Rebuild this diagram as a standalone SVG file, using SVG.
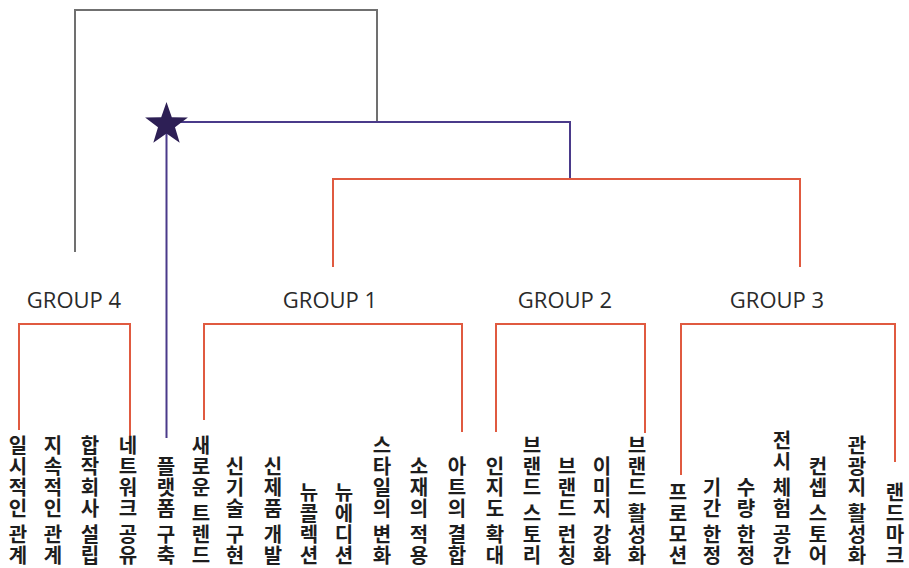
<svg xmlns="http://www.w3.org/2000/svg" width="909" height="568" viewBox="0 0 909 568">
<style>
.gray{fill:none;stroke:#707070;stroke-width:2}
.pur{fill:none;stroke:#4a3a8a;stroke-width:2}
.red{fill:none;stroke:#e05a40;stroke-width:2}
.grp{font-family:"Open Sans","Noto Sans",sans-serif;font-size:22px;fill:#2a2a2a;text-anchor:middle}
.leaf{font-family:"Noto Sans CJK KR","Noto Sans CJK SC",sans-serif;font-size:20px;font-weight:bold;fill:#1e1e1e;text-anchor:middle;dominant-baseline:central}
</style>
<rect width="909" height="568" fill="#fff"/>
<g id="connectors">
<polyline class="gray" points="75,252 75,10 377,10 377,122"/>
<polyline class="pur" points="180,122 570,122 570,179"/>
<line class="pur" x1="166.5" y1="130" x2="166.5" y2="438"/>
<polyline class="red" points="333,267 333,179 800,179 800,267"/>
<polyline class="red" points="19,430 19,324 130,324 130,446"/>
<polyline class="red" points="204,420 204,324 462,324 462,432"/>
<polyline class="red" points="496,432 496,324 645,324 645,433"/>
<polyline class="red" points="681,475 681,324 895,324 895,462"/>
</g>
<g id="root">
<polygon fill="#2d1f55" points="166.5,102 171.8,117.2 187.9,117.5 175.0,127.3 179.7,142.7 166.5,133.5 153.3,142.7 158.0,127.3 145.1,117.5 161.2,117.2"/>
</g>
<g id="group4"><text class="grp" x="74" y="308">GROUP 4</text></g>
<g id="group1"><text class="grp" x="330" y="308">GROUP 1</text></g>
<g id="group2"><text class="grp" x="565" y="308">GROUP 2</text></g>
<g id="group3"><text class="grp" x="777" y="308">GROUP 3</text></g>
<g id="leaf1"><text class="leaf"><tspan x="18" y="444">일</tspan><tspan x="18" y="465">시</tspan><tspan x="18" y="486">적</tspan><tspan x="18" y="507">인</tspan><tspan x="18" y="533">관</tspan><tspan x="18" y="554">계</tspan></text></g>
<g id="leaf2"><text class="leaf"><tspan x="53" y="444">지</tspan><tspan x="53" y="465">속</tspan><tspan x="53" y="486">적</tspan><tspan x="53" y="507">인</tspan><tspan x="53" y="533">관</tspan><tspan x="53" y="554">계</tspan></text></g>
<g id="leaf3"><text class="leaf"><tspan x="90" y="444">합</tspan><tspan x="90" y="465">작</tspan><tspan x="90" y="486">회</tspan><tspan x="90" y="507">사</tspan><tspan x="90" y="533">설</tspan><tspan x="90" y="554">립</tspan></text></g>
<g id="leaf4"><text class="leaf"><tspan x="128" y="444">네</tspan><tspan x="128" y="465">트</tspan><tspan x="128" y="486">워</tspan><tspan x="128" y="507">크</tspan><tspan x="128" y="533">공</tspan><tspan x="128" y="554">유</tspan></text></g>
<g id="leaf5"><text class="leaf"><tspan x="166" y="465">플</tspan><tspan x="166" y="486">랫</tspan><tspan x="166" y="507">폼</tspan><tspan x="166" y="533">구</tspan><tspan x="166" y="554">축</tspan></text></g>
<g id="leaf6"><text class="leaf"><tspan x="201" y="444">새</tspan><tspan x="201" y="465">로</tspan><tspan x="201" y="486">운</tspan><tspan x="201" y="512">트</tspan><tspan x="201" y="533">렌</tspan><tspan x="201" y="554">드</tspan></text></g>
<g id="leaf7"><text class="leaf"><tspan x="235" y="465">신</tspan><tspan x="235" y="486">기</tspan><tspan x="235" y="507">술</tspan><tspan x="235" y="533">구</tspan><tspan x="235" y="554">현</tspan></text></g>
<g id="leaf8"><text class="leaf"><tspan x="273" y="465">신</tspan><tspan x="273" y="486">제</tspan><tspan x="273" y="507">품</tspan><tspan x="273" y="533">개</tspan><tspan x="273" y="554">발</tspan></text></g>
<g id="leaf9"><text class="leaf"><tspan x="309" y="491">뉴</tspan><tspan x="309" y="512">콜</tspan><tspan x="309" y="533">렉</tspan><tspan x="309" y="554">션</tspan></text></g>
<g id="leaf10"><text class="leaf"><tspan x="344" y="491">뉴</tspan><tspan x="344" y="512">에</tspan><tspan x="344" y="533">디</tspan><tspan x="344" y="554">션</tspan></text></g>
<g id="leaf11"><text class="leaf"><tspan x="382" y="444">스</tspan><tspan x="382" y="465">타</tspan><tspan x="382" y="486">일</tspan><tspan x="382" y="507">의</tspan><tspan x="382" y="533">변</tspan><tspan x="382" y="554">화</tspan></text></g>
<g id="leaf12"><text class="leaf"><tspan x="419" y="465">소</tspan><tspan x="419" y="486">재</tspan><tspan x="419" y="507">의</tspan><tspan x="419" y="533">적</tspan><tspan x="419" y="554">용</tspan></text></g>
<g id="leaf13"><text class="leaf"><tspan x="457" y="465">아</tspan><tspan x="457" y="486">트</tspan><tspan x="457" y="507">의</tspan><tspan x="457" y="533">결</tspan><tspan x="457" y="554">합</tspan></text></g>
<g id="leaf14"><text class="leaf"><tspan x="495" y="465">인</tspan><tspan x="495" y="486">지</tspan><tspan x="495" y="507">도</tspan><tspan x="495" y="533">확</tspan><tspan x="495" y="554">대</tspan></text></g>
<g id="leaf15"><text class="leaf"><tspan x="532" y="444">브</tspan><tspan x="532" y="465">랜</tspan><tspan x="532" y="486">드</tspan><tspan x="532" y="512">스</tspan><tspan x="532" y="533">토</tspan><tspan x="532" y="554">리</tspan></text></g>
<g id="leaf16"><text class="leaf"><tspan x="567" y="465">브</tspan><tspan x="567" y="486">랜</tspan><tspan x="567" y="507">드</tspan><tspan x="567" y="533">런</tspan><tspan x="567" y="554">칭</tspan></text></g>
<g id="leaf17"><text class="leaf"><tspan x="602" y="465">이</tspan><tspan x="602" y="486">미</tspan><tspan x="602" y="507">지</tspan><tspan x="602" y="533">강</tspan><tspan x="602" y="554">화</tspan></text></g>
<g id="leaf18"><text class="leaf"><tspan x="637" y="444">브</tspan><tspan x="637" y="465">랜</tspan><tspan x="637" y="486">드</tspan><tspan x="637" y="512">활</tspan><tspan x="637" y="533">성</tspan><tspan x="637" y="554">화</tspan></text></g>
<g id="leaf19"><text class="leaf"><tspan x="678" y="491">프</tspan><tspan x="678" y="512">로</tspan><tspan x="678" y="533">모</tspan><tspan x="678" y="554">션</tspan></text></g>
<g id="leaf20"><text class="leaf"><tspan x="712" y="486">기</tspan><tspan x="712" y="507">간</tspan><tspan x="712" y="533">한</tspan><tspan x="712" y="554">정</tspan></text></g>
<g id="leaf21"><text class="leaf"><tspan x="746" y="486">수</tspan><tspan x="746" y="507">량</tspan><tspan x="746" y="533">한</tspan><tspan x="746" y="554">정</tspan></text></g>
<g id="leaf22"><text class="leaf"><tspan x="782" y="439">전</tspan><tspan x="782" y="460">시</tspan><tspan x="782" y="486">체</tspan><tspan x="782" y="507">험</tspan><tspan x="782" y="533">공</tspan><tspan x="782" y="554">간</tspan></text></g>
<g id="leaf23"><text class="leaf"><tspan x="818" y="465">컨</tspan><tspan x="818" y="486">셉</tspan><tspan x="818" y="512">스</tspan><tspan x="818" y="533">토</tspan><tspan x="818" y="554">어</tspan></text></g>
<g id="leaf24"><text class="leaf"><tspan x="857" y="444">관</tspan><tspan x="857" y="465">광</tspan><tspan x="857" y="486">지</tspan><tspan x="857" y="512">활</tspan><tspan x="857" y="533">성</tspan><tspan x="857" y="554">화</tspan></text></g>
<g id="leaf25"><text class="leaf"><tspan x="895" y="491">랜</tspan><tspan x="895" y="512">드</tspan><tspan x="895" y="533">마</tspan><tspan x="895" y="554">크</tspan></text></g>
</svg>
